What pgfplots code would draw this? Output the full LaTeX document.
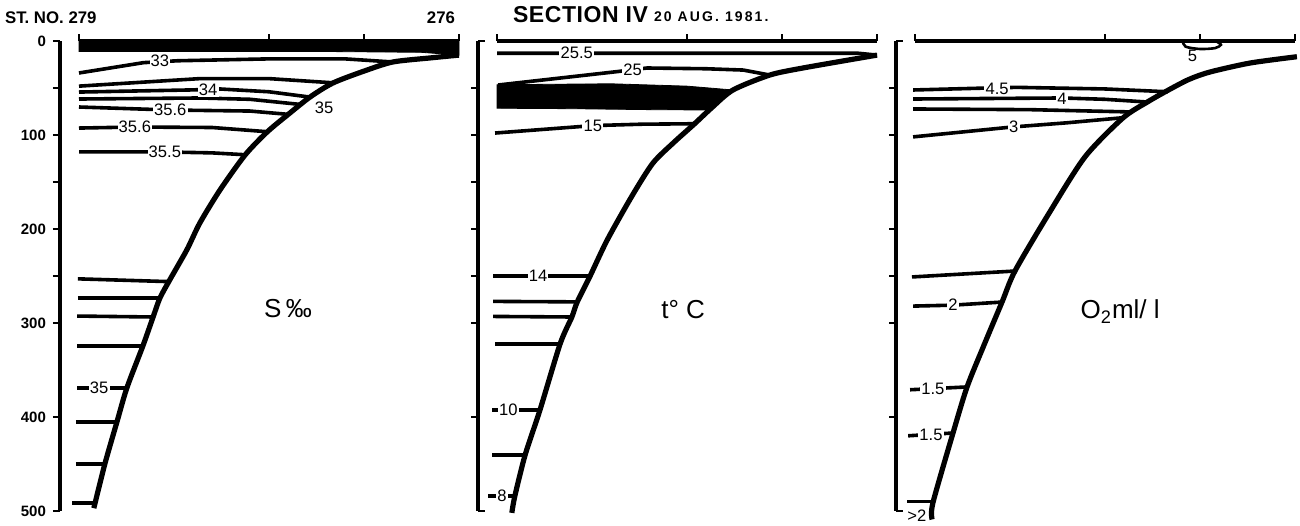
\documentclass[border=0pt]{standalone}
\usepackage{fontspec}
\setmainfont{Liberation Sans}
\usepackage{pgfplots}
\pgfplotsset{compat=1.18}

\pgfplotsset{
  panel/.style={
    scale only axis, width=199.5pt, height=235pt,
    xmin=-5, xmax=100, ymin=0, ymax=500, y dir=reverse,
    axis x line*=top, axis y line*=left,
    x axis line style={draw=none},
    y axis line style={-, line width=1.7pt},
    xtick={0,50,75,100}, xticklabels={},
    tick align=outside, major tick length=3.5pt, minor tick length=3.5pt,
    every tick/.style={black, line width=1.4pt},
    ytick={0,100,...,500}, minor ytick={50,150,250},
    clip=false,
    /pgf/number format/assume math mode=true,
    yticklabel style={font=\fontsize{7.5}{8}\selectfont\bfseries},
  },
  bracket/.style={
    ytick={50,100,150,200,250,300,400}, minor ytick={}, yticklabels={},
    extra y ticks={0,500}, extra y tick labels={},
    extra y tick style={tick align=inside},
  },
  iso/.style={black, line width=1.8pt},
  floor/.style={black, line width=2.6pt, line join=round, smooth, tension=0.45},
}
\tikzset{
  lab/.style={fill=white, inner sep=0.6pt, font=\fontsize{8.3}{8}\selectfont},
  big/.style={font=\fontsize{13}{13}\selectfont},
}

\begin{document}
\begin{tikzpicture}
\useasboundingbox (0,0) rectangle (650pt,262.5pt);

\node[anchor=west, font=\fontsize{8.4}{9}\selectfont\bfseries] at (-1pt,253.5pt) {ST. NO. 279};
\node[anchor=east, font=\fontsize{8.4}{9}\selectfont\bfseries] at (231pt,253.5pt) {276};
\node[anchor=west, font=\fontsize{11.5}{12}\selectfont\bfseries\addfontfeature{LetterSpace=2.5}] at (253pt,255pt) {SECTION IV};
\node[anchor=west, font=\fontsize{7}{8}\selectfont\bfseries\addfontfeature{LetterSpace=15}] at (323.5pt,254pt) {20 AUG. 1981.};

% ---------------- salinity
\begin{axis}[panel, at={(30pt,7pt)}]
\addplot[iso] coordinates {(0,0)(100,0)};
\addplot[fill=black, draw=black] coordinates {(0,0)(0,11)(30,11)(60,11)(90,12)(100,15)(100,0)} -- cycle;
\addplot[floor] coordinates {(100,15)(92.4,18)(82.6,22.3)(75,32)(66.8,44.7)(60.8,59.6)(55.5,76.6)(49.5,96.8)(43.7,121.3)(37.1,158.5)(31.8,193.6)(28.4,222)(23.9,254)(21.3,273.4)(19.5,293.6)(16.8,324.5)(12.6,369)(10,405)(6.8,450)(3.9,497)};
\addplot[iso] coordinates {(0,34)(17,23)(26,21)(50,19)(70,19)(82.6,22.3)};
\addplot[iso] coordinates {(0,48)(31.8,40)(50,40)(67,44.5)};
\addplot[iso] coordinates {(0,54.3)(30,52)(37,51)(50,54)(60.5,59.5)};
\addplot[iso] coordinates {(0,61.7)(31.8,60.6)(45,62)(58.3,67.5)};
\addplot[iso] coordinates {(0,70.2)(24,73.4)(45,74.5)(55,78)};
\addplot[iso] coordinates {(0,92.6)(14.7,91.5)(35,92)(49.6,96.5)};
\addplot[iso] coordinates {(0,118)(22.6,118)(35,119)(43.8,121)};
\addplot[iso] coordinates {(-0.3,253)(24,256)};
\addplot[iso] coordinates {(-0.3,273.4)(21.3,273.4)};
\addplot[iso] coordinates {(-0.5,292.6)(19.5,293.6)};
\addplot[iso] coordinates {(-0.5,324.5)(16.8,324.5)};
\addplot[iso] coordinates {(-0.5,369)(12.6,369)};
\addplot[iso] coordinates {(-0.8,405)(10,405)};
\addplot[iso] coordinates {(-0.8,450)(6.8,450)};
\addplot[iso] coordinates {(-1.8,491.5)(4.3,491.5)};
\node[lab] at (axis cs:21.3,21.5) {33};
\node[lab] at (axis cs:34,51.5) {34};
\node[lab] at (axis cs:24,73.4) {35.6};
\node[lab, fill=none] at (axis cs:64.5,71) {35};
\node[lab] at (axis cs:14.7,91.5) {35.6};
\node[lab] at (axis cs:22.6,118) {35.5};
\node[lab] at (axis cs:5.3,369) {35};
\node[big] at (axis cs:55,285) {S\,‰};
\end{axis}

% ---------------- temperature
\begin{axis}[panel, bracket, at={(239pt,7pt)}]
\addplot[iso] coordinates {(0,0)(100,0)};
\addplot[fill=black, draw=black] coordinates {(0,46.5)(30,45.5)(50,48)(62.1,52.1)(59,63)(56,73.4)(40,73)(20,72)(0,71.5)} -- cycle;
\addplot[floor] coordinates {(100,15)(80.5,28.7)(71.8,36.2)(62.1,52.1)(56.5,71)(52,88)(46.5,108)(41,130)(35.5,165)(29,211.7)(24.5,250)(21.1,277.7)(19.7,293.6)(16.6,322.3)(11.3,392.6)(7.4,440.4)(4.7,484)(3.9,502)};
\addplot[iso] coordinates {(0,13)(50,13)(95,13)(100,15)};
\addplot[iso] coordinates {(0.3,46.8)(31.5,32.6)(39.5,28.7)(55,29.5)(64.8,30.9)(71.8,36.2)};
\addplot[iso] coordinates {(-0.5,97.9)(25.2,90)(38,88.5)(52,88)};
\addplot[iso] coordinates {(-1,250)(24.5,250)};
\addplot[iso] coordinates {(-1,277)(21.1,277.5)};
\addplot[iso] coordinates {(-1,293)(19.7,293.6)};
\addplot[iso] coordinates {(-0.5,322.3)(16.6,322.3)};
\addplot[iso] coordinates {(-1.3,392.6)(11.3,392.6)};
\addplot[iso] coordinates {(-1.3,440.4)(7.4,440.4)};
\addplot[iso] coordinates {(-2.3,484)(4.7,484)};
\node[lab] at (axis cs:21,13) {25.5};
\node[lab] at (axis cs:35.7,30.9) {25};
\node[lab] at (axis cs:25.2,90) {15};
\node[lab] at (axis cs:10.8,250) {14};
\node[lab] at (axis cs:3,392.6) {10};
\node[lab] at (axis cs:1.3,484) {8};
\node[big] at (axis cs:49,286) {t° C};
\end{axis}

% ---------------- oxygen
\begin{axis}[panel, bracket, at={(448pt,7pt)}]
\addplot[iso] coordinates {(0,0)(100,0)};
\addplot[floor] coordinates {(100.5,16.7)(88.2,23.4)(77.6,33)(72,41)(66.3,53)(61.1,65)(54.7,81.9)(44.7,123.4)(35,185)(26.3,244.7)(22.9,277.7)(18,325)(13.7,368)(10,417)(4.7,491.5)(4.5,509)};
\addplot[black, line width=1.3pt, smooth] coordinates {(70.5,0.5)(71.2,6)(75,8.5)(79,7.5)(80.5,4)(79.5,1)};
\addplot[iso] coordinates {(-0.5,52.1)(19,50)(26.8,49.3)(50,51)(66.5,54)};
\addplot[iso] coordinates {(-0.5,61.7)(38.7,60.6)(50,62)(61.5,65)};
\addplot[iso] coordinates {(-0.5,72.3)(30,73)(57.3,75.5)};
\addplot[iso] coordinates {(-0.5,102)(25.5,91.5)(40,87)(55,81.5)};
\addplot[iso] coordinates {(-0.8,251)(26.3,244.7)};
\addplot[iso] coordinates {(-0.5,282)(10,281)(22.9,277.7)};
\addplot[iso] coordinates {(-1.3,371)(13.7,368)};
\addplot[iso] coordinates {(-1.8,420)(10,417)};
\addplot[iso] coordinates {(-2.1,490)(4.7,490)};
\node[lab, fill=none] at (axis cs:73,16) {5};
\node[lab] at (axis cs:21.6,50.5) {4.5};
\node[lab] at (axis cs:38.7,61) {4};
\node[lab] at (axis cs:26,91) {3};
\node[lab] at (axis cs:10,281) {2};
\node[lab] at (axis cs:4.7,370) {1.5};
\node[lab] at (axis cs:4.2,419) {1.5};
\node[lab, fill=none] at (axis cs:0.5,505) {>2};
\node[big] at (axis cs:54,288) {O\textsubscript{2}ml/ l};
\end{axis}
\end{tikzpicture}
\end{document}
